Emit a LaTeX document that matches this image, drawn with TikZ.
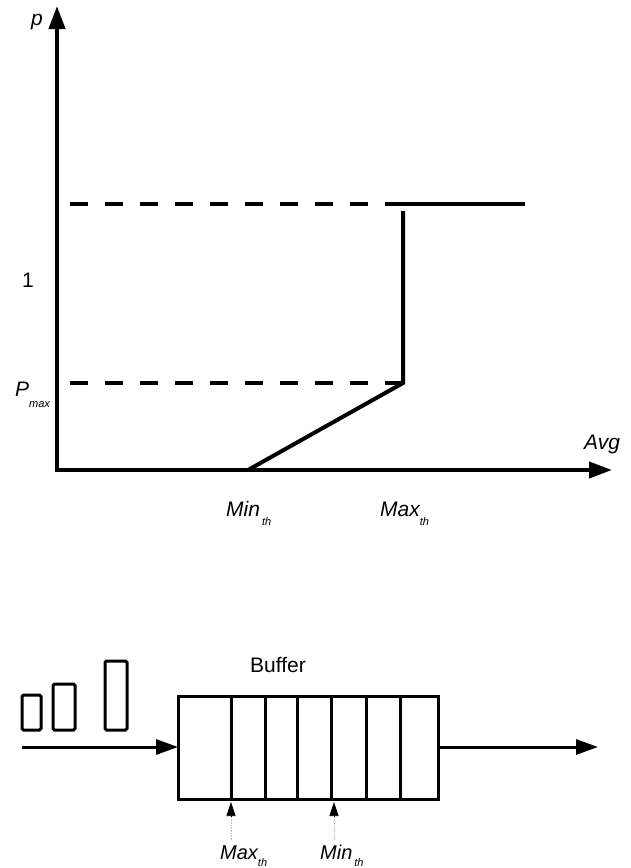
\documentclass[tikz,border=0pt]{standalone}
\usepackage{fontspec}
\setmainfont{Liberation Sans}
\usetikzlibrary{arrows.meta,positioning}

\tikzset{
  axisline/.style={line width=4pt,-{Triangle[length=23pt,width=16pt]}},
  curveline/.style={line width=4pt},
  guide/.style={line width=3.5pt,dash pattern=on 18pt off 17pt},
  cell/.style={line width=3pt},
  flow/.style={line width=3pt,-{Triangle[length=22pt,width=15pt]}},
  marker/.style={line width=0.6pt,-{Triangle[length=14pt,width=9pt]}},
  lbl/.style={inner sep=0pt,anchor=base west,font=\fontsize{21}{21}\selectfont\itshape},
}
\newcommand{\sublbl}[4]{#1\hspace{#3}\raisebox{#4}{\fontsize{11}{11}\selectfont #2}}

\begin{document}
\begin{tikzpicture}[x=1pt,y=-1pt]
  \useasboundingbox (0,0) rectangle (631,868);
  % axes
  \coordinate (o) at (57,470);
  \coordinate (ytip) at (57,6);
  \coordinate (xtip) at (612,470);
  \draw[axisline] (57,472) -- (ytip);
  \draw[axisline] (55,470) -- (xtip);
  % drop curve
  \coordinate (minth) at (248,470);
  \coordinate (knee) at (403,383);
  \coordinate (ktop) at (403,211);
  \coordinate (hstart) at (386,204);
  \coordinate (hend) at (525,204);
  \draw[guide] (70,204) -- (hstart);
  \draw[guide] (70,383) -- (knee);
  \draw[curveline] (minth) -- (knee) -- (ktop);
  \draw[curveline] (hstart) -- (hend);
  % axis labels
  \node[lbl] (plbl) at (31,25) {p};
  \node[lbl] (avglbl) at (584,449) {Avg};
  \node[lbl,font=\fontsize{21}{21}\selectfont] (onelbl) at (22,287) {1};
  \node[lbl] (pmaxlbl) at (15,396) {\sublbl{P}{max}{0pt}{-11pt}};
  \node[lbl] (minlbl) at (226,516) {\sublbl{Min}{th}{2pt}{-9pt}};
  \node[lbl] (maxlbl) at (380,516) {\sublbl{Max}{th}{0pt}{-9pt}};

  % packets
  \draw[cell,rounded corners=1.5pt] (22,695) rectangle (41,730);
  \draw[cell,rounded corners=1.5pt] (53,684) rectangle (75,730);
  \draw[cell,rounded corners=1.5pt] (105,661) rectangle (127,730);
  % buffer
  \draw[cell] (178,696) rectangle (438,799);
  \foreach \x in {231,265,297,331,366,400}
    \draw[cell] (\x,696) -- (\x,799);
  \node[lbl,font=\fontsize{21}{21}\selectfont] (buflbl) at (250,672) {Buffer};
  \coordinate (bufin) at (178,747);
  \coordinate (bufout) at (438,747);
  \draw[flow] (22,747) -- (bufin);
  \draw[flow] (bufout) -- (598,747);
  % thresholds
  \node[lbl,font=\fontsize{20}{20}\selectfont\itshape] (maxq) at (220,859) {\sublbl{Max}{th}{0pt}{-7pt}};
  \node[lbl,font=\fontsize{20}{20}\selectfont\itshape] (minq) at (320,859) {\sublbl{Min}{th}{2pt}{-7pt}};
  \draw[gray!50,densely dotted,line width=0.6pt] (231,840) -- (231,816);
  \draw[gray!50,densely dotted,line width=0.6pt] (334,840) -- (334,816);
  \draw[marker] (231,817) -- (231,802);
  \draw[marker] (334,817) -- (334,802);
\end{tikzpicture}
\end{document}
